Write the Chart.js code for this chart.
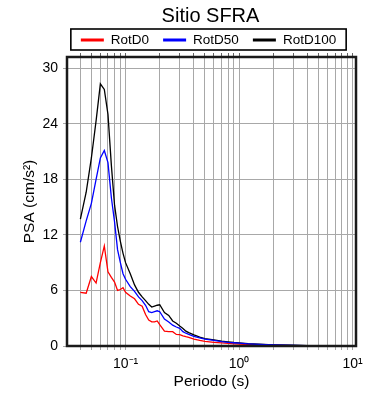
<!DOCTYPE html>
<html>
<head>
<meta charset="utf-8">
<script src="https://cdn.jsdelivr.net/npm/chart.js@4/dist/chart.umd.min.js"></script>
<style>
  html, body { margin: 0; padding: 0; background: #fff; }
  #c { display: block; }
</style>
</head>
<body>
<canvas id="c" width="390" height="400"></canvas>
<script>
const chartTitle = 'Sitio SFRA';
const seriesNames = ['RotD0', 'RotD50', 'RotD100'];
const seriesColors = ['#ff0000', '#0000ff', '#000000'];
const periods = [0.04, 0.045, 0.05, 0.055, 0.06, 0.065, 0.07, 0.075, 0.08, 0.085, 0.09, 0.095, 0.1, 0.11, 0.12, 0.13, 0.14, 0.15, 0.16, 0.17, 0.18, 0.19, 0.2, 0.22, 0.24, 0.26, 0.28, 0.3, 0.32, 0.34, 0.36, 0.4, 0.45, 0.5, 0.6, 0.7, 0.8, 0.9, 1.0, 1.2, 1.5, 2.0, 3.0, 4.0, 5.0, 7.5, 10];
const rotD0 = [5.8, 5.7, 7.5, 6.8, 9.0, 10.8, 8.0, 7.4, 6.9, 6.0, 6.1, 6.3, 5.8, 5.4, 5.1, 4.5, 4.3, 3.4, 2.8, 2.6, 2.6, 2.7, 2.3, 1.6, 1.55, 1.55, 1.25, 1.22, 1.1, 1.0, 0.92, 0.74, 0.6, 0.5, 0.4, 0.33, 0.28, 0.24, 0.2, 0.16, 0.12, 0.08, 0.05, 0.035, 0.025, 0.015, 0.01];
const rotD50 = [11.2, 13.5, 15.4, 18.0, 20.3, 21.1, 19.8, 16.0, 13.4, 10.4, 9.0, 7.8, 7.2, 6.4, 5.9, 5.3, 4.9, 4.4, 3.7, 3.6, 3.7, 3.8, 3.7, 2.9, 2.6, 2.25, 2.05, 1.9, 1.55, 1.38, 1.25, 1.05, 0.88, 0.75, 0.6, 0.48, 0.4, 0.35, 0.31, 0.24, 0.18, 0.12, 0.07, 0.05, 0.035, 0.02, 0.015];
const rotD100 = [13.7, 16.6, 20.3, 24.3, 28.3, 27.7, 25.0, 19.5, 15.2, 12.9, 11.3, 10.0, 9.0, 7.8, 6.6, 5.8, 5.3, 4.9, 4.5, 4.2, 4.3, 4.4, 4.45, 3.6, 3.3, 2.7, 2.45, 2.15, 1.9, 1.6, 1.45, 1.2, 0.95, 0.8, 0.65, 0.52, 0.44, 0.38, 0.34, 0.26, 0.19, 0.13, 0.08, 0.05, 0.04, 0.02, 0.015];
const xTickValues = [0.04, 0.05, 0.06, 0.07, 0.08, 0.09, 0.1, 0.2, 0.3, 0.4, 0.5, 0.6, 0.7, 0.8, 0.9, 1, 2, 3, 4, 5, 6, 7, 8, 9, 10];
const xTickLabels = {0.1: '10\u207B\u00B9', 1: '10\u2070', 10: '10\u00B9'};
const yTickValues = [0, 6, 12, 18, 24, 30];
const xRange = [0.0305, 10.7];
const yRange = [0, 31.2];

const FONT = '"Liberation Sans", Arial, Helvetica, sans-serif';
const allSeries = [rotD0, rotD50, rotD100];

const datasets = allSeries.map((vals, i) => ({
  label: seriesNames[i],
  data: periods.map((p, j) => ({x: p, y: vals[j]})),
  borderColor: seriesColors[i],
  backgroundColor: seriesColors[i],
  borderWidth: 1.3,
  pointRadius: 0,
  tension: 0,
  fill: false,
  order: i === 1 ? 0 : (i === 2 ? 1 : 2)
}));

const framePlugin = {
  id: 'frameAndHeader',
  afterDraw(chart) {
    const ctx = chart.ctx;
    const a = chart.chartArea;
    ctx.save();
    ctx.strokeStyle = '#1a1a1a';
    ctx.lineWidth = 2.5;
    ctx.strokeRect(a.left, a.top, a.right - a.left, a.bottom - a.top);
    const cx = (a.left + a.right) / 2;
    ctx.fillStyle = '#000';
    ctx.font = '20px ' + FONT;
    ctx.textAlign = 'center';
    ctx.textBaseline = 'alphabetic';
    ctx.fillText(chartTitle, cx - 1, 22);
    ctx.font = '13.5px ' + FONT;
    const lineLen = 23, gap = 7, pad = 10, spacing = 14;
    const widths = seriesNames.map(n => ctx.measureText(n).width);
    let total = pad * 2 + spacing * (seriesNames.length - 1);
    widths.forEach(w => total += lineLen + gap + w);
    const bx = cx - 3 - total / 2;
    const by = a.top - 28, bh = 21;
    ctx.lineWidth = 1.6;
    ctx.strokeStyle = '#000';
    ctx.strokeRect(bx, by, total, bh);
    let x = bx + pad;
    const ly = by + bh / 2 + 0.5;
    ctx.textAlign = 'left';
    ctx.textBaseline = 'middle';
    seriesNames.forEach((n, i) => {
      ctx.strokeStyle = seriesColors[i];
      ctx.lineWidth = 3;
      ctx.beginPath();
      ctx.moveTo(x, ly);
      ctx.lineTo(x + lineLen, ly);
      ctx.stroke();
      x += lineLen + gap;
      ctx.fillStyle = '#000';
      ctx.fillText(n, x, ly);
      x += widths[i] + spacing;
    });
    ctx.restore();
  }
};

const setXTicks = (scale) => { scale.ticks = xTickValues.map(v => ({value: v})); };

new Chart(document.getElementById('c'), {
  type: 'line',
  data: { datasets },
  options: {
    responsive: false,
    animation: false,
    devicePixelRatio: 1,
    layout: { padding: { top: 53, right: 34, bottom: 0, left: 0 } },
    plugins: {
      legend: { display: false },
      title: { display: false },
      tooltip: { enabled: false }
    },
    scales: {
      x: {
        type: 'logarithmic',
        position: 'bottom',
        min: xRange[0],
        max: xRange[1],
        afterBuildTicks: setXTicks,
        afterFit: (s) => { s.height = 54; },
        border: { display: false },
        grid: { color: '#a8a8a8', lineWidth: 1, tickLength: 4, drawTicks: true },
        ticks: {
          autoSkip: false,
          maxRotation: 0,
          padding: 6,
          color: '#000',
          font: { size: 14, family: FONT },
          callback: (v) => xTickLabels[v] !== undefined ? xTickLabels[v] : ''
        },
        title: {
          display: true,
          text: 'Periodo (s)',
          color: '#000',
          font: { size: 15.5, family: FONT },
          padding: { top: 0, bottom: 9 }
        }
      },
      x2: {
        type: 'logarithmic',
        position: 'top',
        min: xRange[0],
        max: xRange[1],
        afterBuildTicks: setXTicks,
        afterFit: (s) => { s.height = 4; },
        border: { display: false },
        grid: { drawOnChartArea: false, color: '#666', tickLength: 4 },
        ticks: { display: false }
      },
      y: {
        type: 'linear',
        min: yRange[0],
        max: yRange[1],
        afterBuildTicks: (s) => { s.ticks = yTickValues.map(v => ({value: v})); },
        afterFit: (s) => { s.width = 67; },
        border: { display: false },
        grid: { color: '#a8a8a8', lineWidth: 1, tickLength: 4 },
        ticks: {
          padding: 5,
          color: '#000',
          font: { size: 14, family: FONT }
        },
        title: {
          display: true,
          text: 'PSA (cm/s\u00B2)',
          color: '#000',
          font: { size: 15.5, family: FONT },
          padding: { top: 20, bottom: 0 }
        }
      }
    }
  },
  plugins: [framePlugin]
});
</script>
</body>
</html>
